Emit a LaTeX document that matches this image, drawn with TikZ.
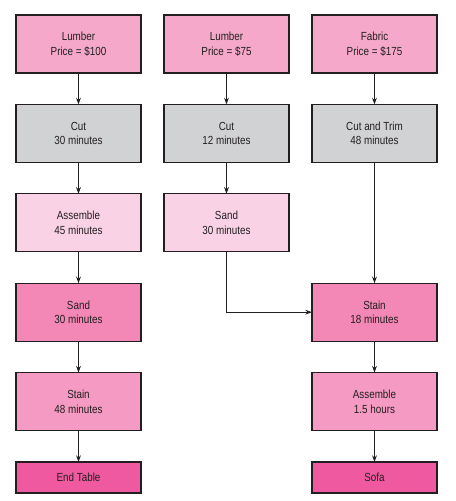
\documentclass[tikz,border=0pt]{standalone}
\usepackage{fontspec}
\setmainfont{Liberation Sans}[FakeStretch=0.84]
\usetikzlibrary{positioning,arrows.meta}
\definecolor{rawpink}{HTML}{F5A8C9}
\definecolor{cutgray}{HTML}{D1D2D4}
\definecolor{palepink}{HTML}{FAD2E6}
\definecolor{sandpink}{HTML}{F387B6}
\definecolor{stainpink}{HTML}{F59AC2}
\definecolor{endpink}{HTML}{EF59A0}
\definecolor{inkdark}{HTML}{231F20}
\begin{document}
\begin{tikzpicture}[
	box/.style={draw=inkdark,line width=0.8pt,text=inkdark,align=center,
		minimum width=93.75pt,minimum height=43.5pt,inner sep=0pt,outer sep=0pt,
		font=\fontsize{8.8}{11}\selectfont},
	last/.style={box,minimum height=23.25pt},
	flow/.style={draw=inkdark,line width=0.7pt,-{Stealth[length=5pt,width=3.6pt]}},
	node distance=23.55pt and 17.25pt]
	\useasboundingbox (0,0) rectangle (342pt,-375.75pt);
	% table column
	\node [box,fill=rawpink,anchor=north west] (lumbera) at (12pt,-11.25pt) {Lumber\\Price = \$100};
	\node [box,fill=cutgray,below=of lumbera] (cuta) {Cut\\30 minutes};
	\node [box,fill=palepink,below=of cuta] (assemblea) {Assemble\\45 minutes};
	\node [box,fill=sandpink,below=of assemblea] (sanda) {Sand\\30 minutes};
	\node [box,fill=stainpink,below=of sanda] (staina) {Stain\\48 minutes};
	\node [last,fill=endpink,below=of staina] (table) {End Table};
	% lumber for the sofa
	\node [box,fill=rawpink,right=of lumbera] (lumberb) {Lumber\\Price = \$75};
	\node [box,fill=cutgray,below=of lumberb] (cutb) {Cut\\12 minutes};
	\node [box,fill=palepink,below=of cutb] (sandb) {Sand\\30 minutes};
	% fabric column
	\node [box,fill=rawpink,right=of lumberb] (fabric) {Fabric\\Price = \$175};
	\node [box,fill=cutgray,below=of fabric] (trim) {Cut and Trim\\48 minutes};
	\node [box,fill=sandpink,below=90.6pt of trim] (stainb) {Stain\\18 minutes};
	\node [box,fill=stainpink,below=of stainb] (assembleb) {Assemble\\1.5 hours};
	\node [last,fill=endpink,below=of assembleb] (sofa) {Sofa};
	% arrows
	\draw [flow] (lumbera) -- (cuta);
	\draw [flow] (cuta) -- (assemblea);
	\draw [flow] (assemblea) -- (sanda);
	\draw [flow] (sanda) -- (staina);
	\draw [flow] (staina) -- (table);
	\draw [flow] (lumberb) -- (cutb);
	\draw [flow] (cutb) -- (sandb);
	\draw [flow] (sandb.south) |- (stainb.west);
	\draw [flow] (fabric) -- (trim);
	\draw [flow] (trim) -- (stainb);
	\draw [flow] (stainb) -- (assembleb);
	\draw [flow] (assembleb) -- (sofa);
\end{tikzpicture}
\end{document}
